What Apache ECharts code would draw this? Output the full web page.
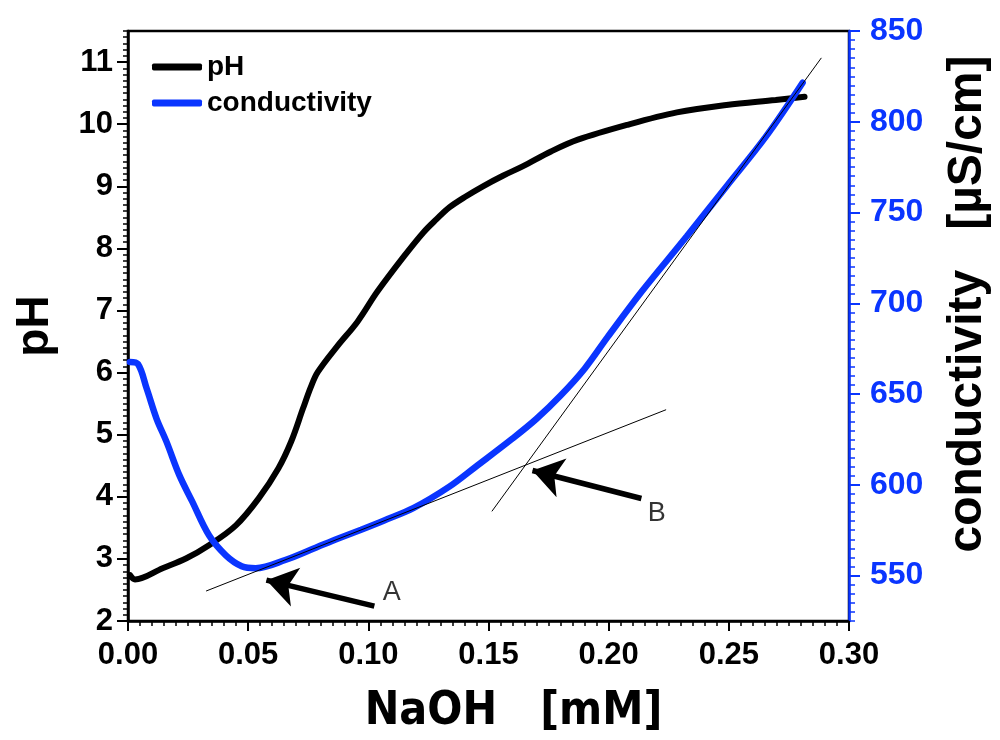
<!DOCTYPE html>
<html>
<head>
<meta charset="utf-8">
<script src="https://cdn.jsdelivr.net/npm/echarts@6/dist/echarts.min.js"></script>
<style>html,body{margin:0;padding:0;background:#fff}#c{width:1000px;height:740px}</style>
</head>
<body>
<div id="c"></div>
<script>
// ---- data ----
const xPH = [0.0008, 0.0029, 0.0144, 0.0243, 0.0337, 0.0449, 0.0543, 0.0626, 0.0679, 0.0728, 0.0761, 0.0790, 0.0872, 0.0955, 0.1037, 0.1148, 0.1230, 0.1284, 0.1337, 0.1407, 0.1477, 0.1560, 0.1642, 0.1760, 0.1872, 0.2078, 0.2284, 0.2490, 0.2695, 0.2815];
const pHVals = [2.74, 2.67, 2.85, 3.01, 3.22, 3.54, 3.97, 4.46, 4.89, 5.42, 5.77, 6.01, 6.43, 6.82, 7.30, 7.87, 8.26, 8.47, 8.66, 8.84, 9.00, 9.17, 9.32, 9.56, 9.75, 9.99, 10.19, 10.31, 10.39, 10.44];
const xCond = [0.0008, 0.0041, 0.0078, 0.0119, 0.0160, 0.0214, 0.0267, 0.0337, 0.0407, 0.0473, 0.0531, 0.0654, 0.0790, 0.0872, 0.0970, 0.1066, 0.1189, 0.1337, 0.1449, 0.1600, 0.1700, 0.1800, 0.1900, 0.1996, 0.2136, 0.2325, 0.2490, 0.2654, 0.2807];
const condVals = [667.7, 666.6, 652.9, 636.4, 623.8, 605.2, 590.9, 572.2, 561.2, 555.2, 554.1, 558.6, 565.9, 570.3, 575.3, 580.4, 587.3, 599.0, 610.2, 625.5, 636.4, 649.2, 664.0, 681.5, 706.2, 736.9, 764.4, 791.8, 821.5];
const tangentA = [[0.0325, 541.5], [0.2239, 641.4]];
const tangentB = [[0.1514, 585.4], [0.2885, 835.2]];
const arrowA = [[0.1025, 533.2], [0.0576, 547.5]];
const arrowB = [[0.2136, 592.5], [0.1683, 607.9]];
const markNames = ['A', 'B'];
const markPos = [[0.1097, 540.5], [0.2200, 584.2]];
const xTicks = [0, 0.05, 0.10, 0.15, 0.20, 0.25, 0.30];
const pHTicks = [2, 3, 4, 5, 6, 7, 8, 9, 10, 11];
const condTicks = [550, 600, 650, 700, 750, 800, 850];

const BLUE = '#0a35ff';
const FONT = "'Liberation Sans', Arial, sans-serif";
const NARROW = "'DejaVu Sans Condensed', 'Liberation Sans', Arial, sans-serif";

const pair = (xs, ys) => xs.map((x, i) => [x, ys[i]]);

const chart = echarts.init(document.getElementById('c'), null, {renderer: 'canvas'});
chart.setOption({
  animation: false,
  backgroundColor: '#fff',
  grid: {left: 128, right: 143, top: 31, bottom: 117, show: true, borderColor: '#000', borderWidth: 2.5, backgroundColor: 'transparent'},
  legend: {
    data: ['pH', 'conductivity'], orient: 'vertical', left: 147, top: 48,
    icon: 'roundRect', itemWidth: 50, itemHeight: 7, itemGap: 8,
    textStyle: {fontFamily: FONT, fontWeight: 'bold', fontSize: 28, color: '#000'}
  },
  xAxis: {
    type: 'value', min: 0, max: 0.3, interval: 0.05,
    name: 'NaOH   [mM]', nameLocation: 'middle', nameGap: 68,
    nameTextStyle: {fontFamily: NARROW, fontWeight: 'bold', fontSize: 46, color: '#000', padding: [0, 0, 0, 50]},
    axisLine: {show: true, onZero: false, lineStyle: {color: '#000', width: 2.5}},
    axisTick: {show: true, length: 10, lineStyle: {color: '#000', width: 2}},
    minorTick: {show: true, splitNumber: 10, length: 5, lineStyle: {color: '#000', width: 1.5}},
    splitLine: {show: false},
    axisLabel: {margin: 19, fontFamily: FONT, fontWeight: 'bold', fontSize: 31, color: '#000',
      formatter: v => v.toFixed(2)}
  },
  yAxis: [
    {
      type: 'value', position: 'left', min: 2, max: 11.5, interval: 1,
      name: 'pH', nameLocation: 'middle', nameGap: 70, nameRotate: 90,
      nameTextStyle: {fontFamily: FONT, fontWeight: 'bold', fontSize: 46, color: '#000'},
      axisLine: {show: true, onZero: false, lineStyle: {color: '#000', width: 2.5}},
      axisTick: {show: true, length: 11, customValues: pHTicks, lineStyle: {color: '#000', width: 2}},
      splitLine: {show: false},
      axisLabel: {margin: 15, customValues: pHTicks, fontFamily: FONT, fontWeight: 'bold', fontSize: 31, color: '#000'}
    },
    {
      type: 'value', position: 'right', min: 525, max: 850,
      name: 'conductivity   [µS/cm]', nameLocation: 'middle', nameGap: 95, nameRotate: 90,
      nameTextStyle: {fontFamily: FONT, fontWeight: 'bold', fontSize: 48, color: '#000', padding: [0, 0, 0, 44]},
      axisLine: {show: true, onZero: false, lineStyle: {color: BLUE, width: 2.5}},
      axisTick: {show: true, length: 11, customValues: condTicks, lineStyle: {color: BLUE, width: 2}},
      splitLine: {show: false},
      axisLabel: {margin: 21, customValues: condTicks, fontFamily: FONT, fontWeight: 'bold', fontSize: 32, color: BLUE}
    },
    {
      type: 'value', position: 'left', min: 2, max: 11.5, interval: 0.1,
      axisLine: {show: false}, axisLabel: {show: false}, splitLine: {show: false},
      axisTick: {show: true, length: 5, lineStyle: {color: '#000', width: 1.5}}
    },
    {
      type: 'value', position: 'right', min: 525, max: 850, interval: 5,
      axisLine: {show: false}, axisLabel: {show: false}, splitLine: {show: false},
      axisTick: {show: true, length: 6, lineStyle: {color: BLUE, width: 1.5}}
    }
  ],
  series: [
    {
      name: 'pH', type: 'line', yAxisIndex: 0, data: pair(xPH, pHVals),
      showSymbol: false, smooth: 0.35, color: '#000',
      lineStyle: {color: '#000', width: 6, cap: 'round'}, z: 2
    },
    {
      name: 'conductivity', type: 'line', yAxisIndex: 1, data: pair(xCond, condVals),
      showSymbol: false, smooth: 0.35, color: BLUE,
      lineStyle: {color: BLUE, width: 6.5, cap: 'round'}, z: 3
    },
    {
      name: 'tangentA', type: 'line', yAxisIndex: 1, data: tangentA, showSymbol: false, silent: true,
      lineStyle: {color: '#000', width: 1}, z: 4,
      markLine: {
        silent: true, symbol: ['none', 'arrow'], symbolSize: 30,
        lineStyle: {color: '#000', width: 5.5, type: 'solid'}, label: {show: false},
        data: [
          [{coord: arrowA[0]}, {coord: arrowA[1]}],
          [{coord: arrowB[0]}, {coord: arrowB[1]}]
        ]
      }
    },
    {
      name: 'tangentB', type: 'line', yAxisIndex: 1, data: tangentB, showSymbol: false, silent: true,
      lineStyle: {color: '#000', width: 1}, z: 4
    },
    {
      name: 'marks', type: 'scatter', yAxisIndex: 1, symbolSize: 0, silent: true,
      data: markPos.map((p, i) => ({value: p, name: markNames[i]})),
      label: {show: true, position: 'inside', formatter: p => p.name,
        fontFamily: FONT, fontSize: 27, color: '#000'}
    }
  ]
});
</script>
</body>
</html>
